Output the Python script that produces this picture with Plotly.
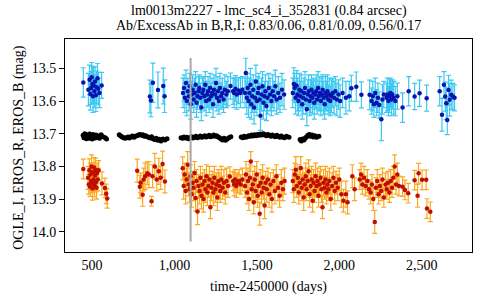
import plotly.graph_objects as go

# ---------------- EROS_B (blue) ----------------
b1_t = [447, 478, 485, 490, 494, 498, 502, 506, 510, 514, 518, 523, 528, 533, 538, 545, 558]
b1_m = [13.543, 13.565, 13.535, 13.578, 13.560, 13.527, 13.548, 13.585, 13.552, 13.570, 13.540, 13.582, 13.558, 13.530, 13.562, 13.575, 13.552]
b1_e = [0.045, 0.05, 0.045, 0.05, 0.05, 0.045, 0.055, 0.05, 0.055, 0.05, 0.045, 0.05, 0.05, 0.045, 0.05, 0.045, 0.04]

b2_t = [851, 857, 869, 900, 932, 940]
b2_m = [13.586, 13.598, 13.544, 13.566, 13.554, 13.585]
b2_e = [0.05, 0.05, 0.06, 0.055, 0.055, 0.05]

b3_t = [1052, 1058, 1063, 1070, 1075, 1081, 1088, 1093, 1099, 1105, 1110, 1117, 1122, 1128, 1134, 1140, 1146, 1151, 1157, 1163, 1169, 1175, 1181, 1187, 1192, 1198, 1204, 1210, 1216, 1222, 1228, 1234, 1240, 1246, 1252, 1258, 1264, 1270, 1276, 1282, 1290, 1298, 1306, 1315, 1324]
b3_m = [13.575, 13.560, 13.590, 13.545, 13.600, 13.570, 13.585, 13.555, 13.610, 13.580, 13.565, 13.595, 13.575, 13.550, 13.605, 13.585, 13.570, 13.560, 13.590, 13.620, 13.575, 13.565, 13.585, 13.550, 13.600, 13.580, 13.570, 13.595, 13.560, 13.585, 13.575, 13.610, 13.565, 13.580, 13.545, 13.590, 13.570, 13.600, 13.560, 13.585, 13.575, 13.595, 13.565, 13.580, 13.570]
b3_e = [0.045, 0.04, 0.045, 0.04, 0.045, 0.04, 0.045, 0.04, 0.045, 0.04, 0.045, 0.04, 0.045, 0.04, 0.045, 0.04, 0.045, 0.04, 0.045, 0.04, 0.045, 0.04, 0.045, 0.04, 0.045, 0.04, 0.045, 0.04, 0.045, 0.04, 0.045, 0.04, 0.045, 0.04, 0.045, 0.04, 0.045, 0.04, 0.045, 0.04, 0.045, 0.04, 0.045, 0.04, 0.045]

b4_t = [1340, 1356, 1362, 1370, 1378, 1388, 1400, 1412, 1428, 1433, 1439, 1444, 1450, 1455, 1461, 1466, 1472, 1478, 1483, 1489, 1494, 1500, 1506, 1511, 1517, 1522, 1528, 1534, 1540, 1546, 1552, 1558, 1565, 1572, 1580, 1588, 1596, 1604, 1612, 1620, 1630, 1640, 1652, 1665]
b4_m = [13.554, 13.570, 13.575, 13.562, 13.580, 13.568, 13.575, 13.565, 13.575, 13.514, 13.590, 13.560, 13.600, 13.575, 13.550, 13.610, 13.585, 13.565, 13.620, 13.590, 13.540, 13.600, 13.575, 13.560, 13.595, 13.645, 13.580, 13.555, 13.605, 13.585, 13.570, 13.615, 13.590, 13.560, 13.580, 13.600, 13.570, 13.585, 13.555, 13.595, 13.575, 13.590, 13.565, 13.580]
b4_e = [0.04, 0.04, 0.045, 0.04, 0.045, 0.04, 0.045, 0.04, 0.045, 0.045, 0.05, 0.045, 0.05, 0.045, 0.05, 0.045, 0.05, 0.045, 0.05, 0.045, 0.05, 0.045, 0.05, 0.045, 0.05, 0.045, 0.05, 0.045, 0.05, 0.045, 0.05, 0.045, 0.05, 0.045, 0.05, 0.045, 0.05, 0.045, 0.05, 0.045, 0.05, 0.045, 0.05, 0.045]

b5_t = [1718, 1724, 1729, 1735, 1741, 1746, 1752, 1758, 1763, 1769, 1775, 1780, 1786, 1792, 1797, 1803, 1809, 1814, 1820, 1826, 1831, 1837, 1843, 1848, 1854, 1860, 1865, 1871, 1877, 1882, 1888, 1894, 1899, 1905, 1911, 1916, 1922, 1928, 1933, 1939, 1945, 1952, 1960, 1968, 1976, 1985, 1995, 2005, 2020, 2040, 2060]
b5_m = [13.575, 13.548, 13.560, 13.590, 13.552, 13.580, 13.600, 13.565, 13.585, 13.570, 13.610, 13.590, 13.575, 13.560, 13.595, 13.625, 13.580, 13.570, 13.600, 13.585, 13.565, 13.590, 13.575, 13.605, 13.580, 13.570, 13.595, 13.560, 13.585, 13.575, 13.600, 13.580, 13.565, 13.590, 13.610, 13.575, 13.585, 13.570, 13.595, 13.580, 13.600, 13.585, 13.575, 13.590, 13.570, 13.595, 13.580, 13.600, 13.575, 13.590, 13.585]
b5_e = [0.045, 0.05, 0.045, 0.05, 0.045, 0.05, 0.045, 0.05, 0.045, 0.05, 0.045, 0.05, 0.045, 0.05, 0.045, 0.05, 0.045, 0.05, 0.045, 0.05, 0.045, 0.05, 0.045, 0.05, 0.045, 0.05, 0.045, 0.05, 0.045, 0.05, 0.045, 0.05, 0.045, 0.05, 0.045, 0.05, 0.045, 0.05, 0.045, 0.05, 0.045, 0.05, 0.045, 0.05, 0.045, 0.05, 0.045, 0.05, 0.045, 0.05, 0.045]

b6_t = [2073, 2103, 2134, 2184, 2196, 2203, 2210, 2218, 2226, 2234, 2242, 2255, 2262, 2270, 2287, 2292, 2298, 2304, 2310, 2316, 2322, 2330, 2340, 2352]
b6_m = [13.561, 13.556, 13.581, 13.581, 13.600, 13.585, 13.610, 13.575, 13.605, 13.590, 13.612, 13.656, 13.595, 13.580, 13.590, 13.580, 13.600, 13.585, 13.575, 13.595, 13.580, 13.590, 13.600, 13.585]
b6_e = [0.04, 0.045, 0.04, 0.045, 0.04, 0.045, 0.04, 0.045, 0.04, 0.045, 0.04, 0.065, 0.045, 0.04, 0.045, 0.05, 0.045, 0.05, 0.045, 0.05, 0.045, 0.05, 0.045, 0.04]

b7_t = [2384, 2421, 2457, 2487, 2530, 2609, 2623, 2635, 2643, 2649, 2655, 2663, 2669, 2679, 2689, 2699]
b7_m = [13.620, 13.570, 13.586, 13.576, 13.591, 13.570, 13.642, 13.550, 13.586, 13.607, 13.658, 13.566, 13.596, 13.581, 13.586, 13.590]
b7_e = [0.045, 0.045, 0.04, 0.04, 0.04, 0.045, 0.05, 0.04, 0.045, 0.05, 0.045, 0.045, 0.05, 0.045, 0.04, 0.04]

# ---------------- OGLE_I (black) ----------------
i1_t = [446, 451, 456, 461, 466, 471, 476, 481, 486, 491, 496, 501, 506, 512, 518, 524, 530, 537, 545, 555, 566, 580, 588]
i1_m = [13.705, 13.712, 13.700, 13.709, 13.715, 13.703, 13.708, 13.714, 13.701, 13.710, 13.706, 13.716, 13.702, 13.709, 13.713, 13.704, 13.711, 13.707, 13.714, 13.703, 13.709, 13.712, 13.716]
i2_t = [665, 674, 683, 692, 700, 709, 718, 727, 736, 745, 754, 763, 772, 781, 790, 799, 808, 817, 826, 835, 844, 853, 862, 871, 880, 889, 898, 908, 918, 930, 942, 955]
i2_m = [13.703, 13.707, 13.710, 13.712, 13.714, 13.712, 13.710, 13.713, 13.709, 13.707, 13.711, 13.708, 13.706, 13.704, 13.702, 13.705, 13.703, 13.708, 13.706, 13.709, 13.711, 13.713, 13.709, 13.715, 13.718, 13.714, 13.720, 13.717, 13.722, 13.716, 13.719, 13.715]
i3_t = [1040, 1049, 1058, 1067, 1076, 1085, 1094, 1103, 1112, 1121, 1130, 1139, 1148, 1157, 1166, 1175, 1184, 1193, 1202, 1211, 1220, 1229, 1238, 1247, 1256, 1265, 1274, 1283, 1292, 1301, 1310, 1320, 1330, 1342]
i3_m = [13.712, 13.714, 13.710, 13.713, 13.711, 13.715, 13.712, 13.709, 13.713, 13.711, 13.708, 13.712, 13.710, 13.707, 13.711, 13.709, 13.706, 13.710, 13.708, 13.705, 13.709, 13.707, 13.704, 13.708, 13.706, 13.710, 13.712, 13.716, 13.719, 13.714, 13.720, 13.716, 13.712, 13.709]
i4_t = [1405, 1414, 1423, 1432, 1441, 1450, 1459, 1468, 1477, 1486, 1495, 1504, 1513, 1522, 1531, 1540, 1549, 1558, 1567, 1576, 1585, 1594, 1603, 1612, 1621, 1630, 1639, 1648, 1657, 1667, 1680, 1695]
i4_m = [13.710, 13.712, 13.708, 13.711, 13.709, 13.706, 13.708, 13.704, 13.707, 13.703, 13.706, 13.702, 13.705, 13.701, 13.704, 13.700, 13.703, 13.706, 13.702, 13.705, 13.708, 13.704, 13.707, 13.709, 13.705, 13.708, 13.711, 13.707, 13.710, 13.712, 13.708, 13.711]
i5_t = [1762, 1770, 1778, 1786, 1794, 1802, 1810, 1818, 1826, 1834, 1843, 1852, 1862, 1876]
i5_m = [13.718, 13.722, 13.716, 13.719, 13.713, 13.709, 13.705, 13.702, 13.708, 13.704, 13.710, 13.706, 13.711, 13.708]

# ---------------- EROS_R (red) ----------------
r1_t = [447, 476, 480, 484, 488, 491, 494, 497, 500, 503, 506, 509, 512, 515, 518, 521, 524, 527, 531, 535, 540, 560, 578, 586, 592]
r1_m = [13.808, 13.835, 13.855, 13.812, 13.862, 13.825, 13.845, 13.800, 13.850, 13.868, 13.818, 13.840, 13.803, 13.858, 13.828, 13.810, 13.848, 13.865, 13.820, 13.840, 13.812, 13.852, 13.866, 13.884, 13.898]
r1_e = [0.03, 0.035, 0.03, 0.035, 0.03, 0.035, 0.03, 0.035, 0.03, 0.035, 0.03, 0.035, 0.03, 0.035, 0.03, 0.035, 0.03, 0.035, 0.03, 0.035, 0.03, 0.035, 0.03, 0.03, 0.03]

r2_t = [774, 790, 795, 807, 813, 822, 835, 845, 861, 867, 881, 893, 905, 917, 928, 942]
r2_m = [13.813, 13.862, 13.850, 13.887, 13.840, 13.830, 13.821, 13.825, 13.907, 13.830, 13.800, 13.840, 13.815, 13.835, 13.793, 13.846]
r2_e = [0.035, 0.035, 0.03, 0.035, 0.035, 0.04, 0.035, 0.04, 0.015, 0.035, 0.04, 0.035, 0.04, 0.035, 0.04, 0.035]

r3_t = [1050, 1056, 1062, 1068, 1074, 1080, 1086, 1092, 1098, 1104, 1110, 1116, 1122, 1128, 1134, 1140, 1146, 1152, 1158, 1164, 1170, 1176, 1182, 1188, 1194, 1200, 1206, 1212, 1218, 1224, 1230, 1236, 1242, 1248, 1254, 1260, 1266, 1272, 1278, 1284, 1292, 1300, 1308, 1316, 1325]
r3_m = [13.806, 13.860, 13.825, 13.875, 13.840, 13.795, 13.855, 13.870, 13.830, 13.885, 13.850, 13.865, 13.820, 13.897, 13.845, 13.938, 13.860, 13.875, 13.835, 13.890, 13.855, 13.900, 13.845, 13.870, 13.830, 13.880, 13.860, 13.840, 13.925, 13.865, 13.850, 13.880, 13.835, 13.870, 13.855, 13.895, 13.845, 13.860, 13.875, 13.840, 13.865, 13.850, 13.880, 13.845, 13.860]
r3_e = [0.035, 0.04, 0.035, 0.04, 0.035, 0.04, 0.035, 0.04, 0.035, 0.04, 0.035, 0.04, 0.035, 0.04, 0.035, 0.04, 0.035, 0.04, 0.035, 0.04, 0.035, 0.04, 0.035, 0.04, 0.035, 0.04, 0.035, 0.04, 0.035, 0.04, 0.035, 0.04, 0.035, 0.04, 0.035, 0.04, 0.035, 0.04, 0.035, 0.04, 0.035, 0.04, 0.035, 0.04, 0.035]

r4_t = [1336, 1356, 1362, 1368, 1375, 1383, 1392, 1402, 1412, 1428, 1434, 1440, 1446, 1452, 1458, 1463, 1469, 1475, 1481, 1487, 1493, 1499, 1505, 1511, 1517, 1523, 1529, 1535, 1541, 1547, 1553, 1560, 1567, 1575, 1583, 1591, 1600, 1609, 1618, 1628, 1638, 1648, 1658, 1668]
r4_m = [13.831, 13.845, 13.855, 13.840, 13.860, 13.850, 13.845, 13.855, 13.840, 13.860, 13.825, 13.880, 13.845, 13.900, 13.835, 13.785, 13.870, 13.855, 13.910, 13.840, 13.875, 13.825, 13.890, 13.860, 13.945, 13.850, 13.880, 13.835, 13.865, 13.920, 13.850, 13.870, 13.840, 13.885, 13.855, 13.900, 13.845, 13.875, 13.830, 13.865, 13.890, 13.850, 13.870, 13.845]
r4_e = [0.03, 0.03, 0.035, 0.03, 0.035, 0.03, 0.035, 0.03, 0.035, 0.035, 0.04, 0.035, 0.04, 0.035, 0.04, 0.03, 0.035, 0.04, 0.035, 0.04, 0.035, 0.04, 0.035, 0.04, 0.035, 0.04, 0.035, 0.04, 0.035, 0.04, 0.035, 0.04, 0.035, 0.04, 0.035, 0.04, 0.035, 0.04, 0.035, 0.04, 0.035, 0.04, 0.035, 0.04]

r5_t = [1718, 1724, 1730, 1736, 1742, 1748, 1754, 1760, 1766, 1772, 1778, 1784, 1790, 1796, 1802, 1808, 1814, 1820, 1826, 1832, 1838, 1844, 1850, 1856, 1862, 1868, 1874, 1880, 1886, 1892, 1898, 1904, 1910, 1916, 1922, 1928, 1934, 1940, 1948, 1956, 1964, 1972, 1980, 1990, 2000, 2012, 2025, 2040, 2050]
r5_m = [13.845, 13.870, 13.825, 13.810, 13.860, 13.835, 13.880, 13.850, 13.805, 13.865, 13.840, 13.895, 13.855, 13.830, 13.870, 13.845, 13.815, 13.885, 13.860, 13.840, 13.905, 13.850, 13.875, 13.830, 13.860, 13.845, 13.890, 13.855, 13.835, 13.870, 13.925, 13.850, 13.865, 13.840, 13.880, 13.855, 13.870, 13.845, 13.900, 13.860, 13.835, 13.875, 13.850, 13.865, 13.840, 13.885, 13.905, 13.885, 13.910]
r5_e = [0.035, 0.04, 0.035, 0.04, 0.035, 0.04, 0.035, 0.04, 0.035, 0.04, 0.035, 0.04, 0.035, 0.04, 0.035, 0.04, 0.035, 0.04, 0.035, 0.04, 0.035, 0.04, 0.035, 0.04, 0.035, 0.04, 0.035, 0.04, 0.035, 0.04, 0.035, 0.04, 0.035, 0.04, 0.035, 0.04, 0.035, 0.04, 0.035, 0.04, 0.035, 0.04, 0.035, 0.04, 0.035, 0.04, 0.035, 0.04, 0.035]

r6_t = [2079, 2093, 2124, 2132, 2140, 2150, 2160, 2170, 2180, 2190, 2198, 2206, 2215, 2222, 2230, 2238, 2246, 2254, 2262, 2270, 2280, 2288, 2296, 2304, 2312, 2320, 2328, 2336, 2344, 2352, 2362]
r6_m = [13.830, 13.870, 13.840, 13.825, 13.855, 13.835, 13.860, 13.845, 13.870, 13.880, 13.855, 13.900, 13.970, 13.865, 13.845, 13.885, 13.860, 13.875, 13.840, 13.895, 13.855, 13.870, 13.850, 13.880, 13.845, 13.865, 13.835, 13.800, 13.855, 13.825, 13.860]
r6_e = [0.035, 0.035, 0.03, 0.035, 0.03, 0.035, 0.03, 0.035, 0.03, 0.035, 0.03, 0.035, 0.035, 0.03, 0.035, 0.03, 0.035, 0.03, 0.035, 0.03, 0.035, 0.03, 0.035, 0.03, 0.035, 0.03, 0.035, 0.035, 0.03, 0.035, 0.03]

r7_t = [2384, 2398, 2418, 2457, 2475, 2481, 2502, 2527, 2532, 2552]
r7_m = [13.862, 13.872, 13.882, 13.842, 13.890, 13.821, 13.841, 13.841, 13.929, 13.939]
r7_e = [0.03, 0.03, 0.03, 0.03, 0.035, 0.03, 0.03, 0.03, 0.03, 0.03]

b_t = b1_t + b2_t + b3_t + b4_t + b5_t + b6_t + b7_t
b_m = b1_m + b2_m + b3_m + b4_m + b5_m + b6_m + b7_m
b_e = b1_e + b2_e + b3_e + b4_e + b5_e + b6_e + b7_e
i_t = i1_t + i2_t + i3_t + i4_t + i5_t
i_m = i1_m + i2_m + i3_m + i4_m + i5_m
r_t = r1_t + r2_t + r3_t + r4_t + r5_t + r6_t + r7_t
r_m = r1_m + r2_m + r3_m + r4_m + r5_m + r6_m + r7_m
r_e = r1_e + r2_e + r3_e + r4_e + r5_e + r6_e + r7_e

marker_line_t = 1098
marker_line_y = [13.468, 14.03]

title1 = "lm0013m2227 - lmc_sc4_i_352831 (0.84 arcsec)"
title2 = "Ab/ExcessAb in B,R,I: 0.83/0.06, 0.81/0.09, 0.56/0.17"
xlabel = "time-2450000 (days)"
ylabel = "OGLE_I, EROS_R, EROS_B (mag)"

FONT = "Liberation Serif"

fig = go.Figure()
fig.add_trace(go.Scatter(
    x=b_t, y=b_m, mode="markers", name="EROS_B",
    marker=dict(color="#0a12b0", size=4.5),
    error_y=dict(type="data", array=b_e, color="#3cc8f2", thickness=1.2, width=2.5),
))
fig.add_trace(go.Scatter(
    x=i_t, y=i_m, mode="markers", name="OGLE_I",
    marker=dict(color="#000000", size=5),
))
fig.add_trace(go.Scatter(
    x=r_t, y=r_m, mode="markers", name="EROS_R",
    marker=dict(color="#c00d00", size=4.5),
    error_y=dict(type="data", array=r_e, color="#fba820", thickness=1.2, width=2.5),
))

fig.add_shape(type="line", xref="x", yref="y",
              x0=marker_line_t, x1=marker_line_t, y0=marker_line_y[0], y1=marker_line_y[1],
              line=dict(color="#a8a8a8", width=2), layer="above")

fig.update_layout(
    width=480, height=300,
    margin=dict(l=65, r=8, t=39, b=48, autoexpand=False),
    paper_bgcolor="white", plot_bgcolor="white",
    showlegend=False,
    font=dict(family=FONT, size=14, color="black"),
    annotations=[
        dict(text=title1, xref="paper", yref="paper", x=0.5, y=1.131, xanchor="center", yanchor="middle",
             showarrow=False, font=dict(family=FONT, size=14)),
        dict(text=title2, xref="paper", yref="paper", x=0.5, y=1.065, xanchor="center", yanchor="middle",
             showarrow=False, font=dict(family=FONT, size=14)),
        dict(text=xlabel, xref="paper", yref="paper", x=0.5, y=-0.164, xanchor="center", yanchor="middle",
             showarrow=False, font=dict(family=FONT, size=14)),
        dict(text=ylabel, xref="paper", yref="paper", x=-0.115, y=0.49, xanchor="center", yanchor="middle",
             textangle=-90, showarrow=False, font=dict(family=FONT, size=14)),
    ],
)
fig.update_xaxes(range=[336, 2805], tickvals=[500, 1000, 1500, 2000, 2500], tickformat=",d",
                 showline=True, linecolor="black", linewidth=1, mirror=True,
                 ticks="", showgrid=False, zeroline=False, tickfont=dict(family=FONT, size=14))
fig.update_yaxes(range=[14.062, 13.410], tickvals=[13.5, 13.6, 13.7, 13.8, 13.9, 14.0], tickformat=".1f",
                 showline=True, linecolor="black", linewidth=1, mirror=True,
                 ticks="outside", ticklen=5, tickcolor="black", showgrid=False, zeroline=False,
                 tickfont=dict(family=FONT, size=14))

# remove the browser's default 8px page margin so the figure sits at the window origin
fig.write_html("out.html", config={"displayModeBar": False, "staticPlot": True},
               post_script="document.body.style.margin='0px';")
